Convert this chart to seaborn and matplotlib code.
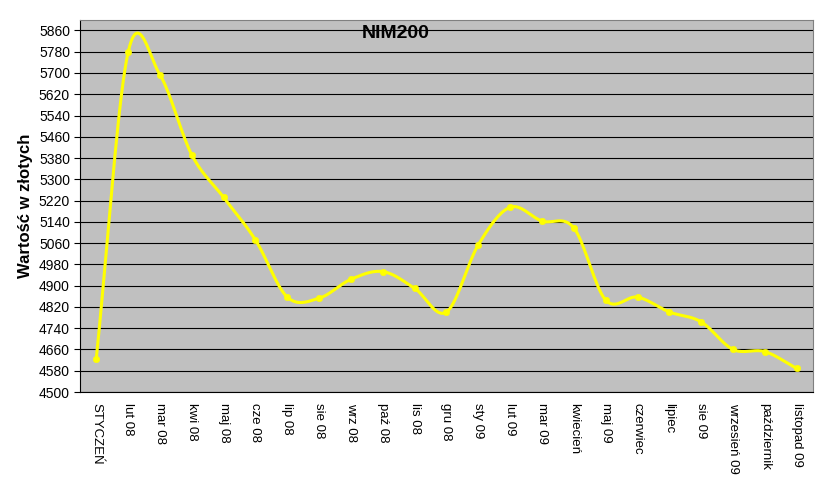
import numpy as np
import pandas as pd
import matplotlib
matplotlib.use("Agg")
import matplotlib.pyplot as plt
import seaborn as sns

categories = ["STYCZEŃ", "lut 08", "mar 08", "kwi 08", "maj 08", "cze 08", "lip 08", "sie 08",
              "wrz 08", "paź 08", "lis 08", "gru 08", "sty 09", "lut 09", "mar 09", "kwiecień",
              "maj 09", "czerwiec", "lipiec", "sie 09", "wrzesień 09", "październik", "listopad 09"]
values = [4626, 5778, 5693, 5392, 5232, 5072, 4857, 4853, 4924, 4953, 4890, 4801, 5054, 5195,
          5143, 5117, 4846, 4857, 4801, 4764, 4660, 4652, 4589]
yticks = list(range(4500, 5861, 80))

sns.set_style("white")
plt.rcParams['font.family'] = ['Liberation Sans', 'DejaVu Sans']
plt.rcParams['text.color'] = 'black'
plt.rcParams['xtick.color'] = 'black'
plt.rcParams['ytick.color'] = 'black'
plt.rcParams['axes.labelcolor'] = 'black'

fig = plt.figure(figsize=(8.2, 4.95), dpi=100)
ax = fig.add_axes([0.098, 0.208, 0.893, 0.752])
ax.set_facecolor("#C0C0C0")

x = np.arange(len(values), dtype=float)
y = np.array(values, dtype=float)
# Catmull-Rom smoothing (Excel-like)
px = np.concatenate([[2*x[0]-x[1]], x, [2*x[-1]-x[-2]]])
py = np.concatenate([[2*y[0]-y[1]], y, [2*y[-1]-y[-2]]])
cx, cy = [], []
t = np.linspace(0, 1, 20)
for i in range(1, len(px)-2):
    for P, out in ((px, cx), (py, cy)):
        p0, p1, p2, p3 = P[i-1], P[i], P[i+1], P[i+2]
        out.extend(0.5*((2*p1) + (-p0+p2)*t + (2*p0-5*p1+4*p2-p3)*t**2 + (-p0+3*p1-3*p2+p3)*t**3))
ax.plot(cx, cy, color="#FFFF00", lw=2.2, zorder=3)
sns.scatterplot(x=x, y=y, ax=ax, color="#FFFF00", s=22, edgecolor="#FFFF00", zorder=4)

ax.set_xlim(-0.5, len(values)-0.5)
ax.set_ylim(4500, 5900)
ax.set_yticks(yticks)
ax.set_yticklabels([str(v) for v in yticks], fontsize=10)
ax.yaxis.grid(True, color="black", lw=0.8)
ax.set_axisbelow(True)
ax.set_xticks(x)
ax.set_xticklabels(categories, rotation=270, fontsize=9.5)
ax.set_xticks(np.arange(-0.5, len(values), 1), minor=True)
ax.tick_params(axis="x", which="major", length=0, pad=8)
ax.tick_params(axis="x", which="minor", length=5, color="black")
ax.tick_params(axis="y", length=4, color="black", left=True)
for s in ax.spines.values():
    s.set_color("#808080")
ax.spines["left"].set_color("black")
ax.spines["bottom"].set_color("black")
ax.set_ylabel("Wartość w złotych", fontsize=12, fontweight="bold")
ax.text(0.43, 0.985, "NIM200", transform=ax.transAxes, ha="center", va="top",
        fontsize=14, fontweight="bold", color="black")
fig.savefig("out.png", dpi=100)
